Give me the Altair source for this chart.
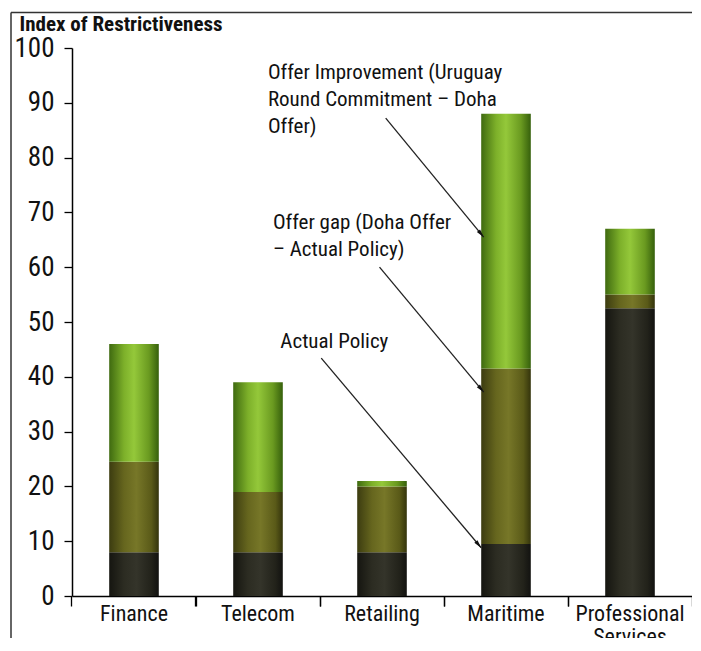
import math
import altair as alt
import pandas as pd

# ---------------- data ----------------
sectors = ["Finance", "Telecom", "Retailing", "Maritime", "Professional Services"]
actual_policy = [8, 8, 8, 9.5, 52.5]
doha_offer = [24.5, 19, 20, 41.5, 55]
uruguay_commitment = [46, 39, 21, 88, 67]

y_ticks = [0, 10, 20, 30, 40, 50, 60, 70, 80, 90, 100]

note_lines = ["Offer Improvement (Uruguay", "Round Commitment \u2013 Doha", "Offer)",
              "Offer gap (Doha Offer", "\u2013 Actual Policy)", "Actual Policy"]
note_x = [1.58, 1.58, 1.58, 1.62, 1.62, 1.68]
note_y = [95.4, 90.5, 85.6, 68.1, 63.1, 46.4]

arrow_x0 = [2.53, 2.48, 2.01]
arrow_y0 = [87.2, 60.0, 43.4]
arrow_x1 = [3.32, 3.32, 3.30]
arrow_y1 = [65.5, 37.2, 8.8]

title_text = "offers and actual policy by sector"

# ---------------- layout ----------------
W, H = 620, 548
BAND = W / len(sectors)
PPU = H / 100.0
P_INNER = 0.6
NARROW = "Liberation Sans Narrow, Arial Narrow, Roboto Condensed, DejaVu Sans Condensed, Liberation Sans"

rows = []
for s, a, d, u in zip(sectors, actual_policy, doha_offer, uruguay_commitment):
    rows.append({"sector": s, "series": "actual", "y0": 0, "y1": a})
    rows.append({"sector": s, "series": "gap", "y0": a, "y1": d})
    rows.append({"sector": s, "series": "improvement", "y0": d, "y1": u})
bars_df = pd.DataFrame(rows)

notes_df = pd.DataFrame({"text": note_lines, "nx": note_x, "ny": note_y})
arrows_df = pd.DataFrame({"ax0": arrow_x0, "ay0": arrow_y0, "ax1": arrow_x1, "ay1": arrow_y1})

heads = []
for x0, y0, x1, y1 in zip(arrow_x0, arrow_y0, arrow_x1, arrow_y1):
    dxp = (x1 - x0) * BAND
    dyp = (y0 - y1) * PPU
    L = math.hypot(dxp, dyp)
    ux, uy = dxp / L, dyp / L
    ang = math.degrees(math.atan2(dxp, -dyp)) % 360
    heads.append({"hx": x1 - 4 * ux / BAND, "hy": y1 + 4 * uy / PPU, "ang": ang})
heads_df = pd.DataFrame(heads)


def grad(stops):
    return alt.Gradient(
        gradient="linear", x1=0, x2=1, y1=0, y2=0,
        stops=[alt.GradientStop(color=c, offset=o) for o, c in stops],
    )


fills = {
    "actual": grad([(0, "#151510"), (0.3, "#2c2c22"), (0.55, "#34342a"), (0.85, "#22221a"), (1, "#121210")]),
    "gap": grad([(0, "#3c3c10"), (0.3, "#66661e"), (0.55, "#777728"), (0.85, "#5a5a18"), (1, "#34340c")]),
    "improvement": grad([(0, "#3f6a10"), (0.3, "#7db02a"), (0.5, "#94c83a"), (0.8, "#6a9a20"), (1, "#36600c")]),
}

xscale = alt.Scale(paddingInner=P_INNER, paddingOuter=P_INNER / 2)
yscale = alt.Scale(domain=[0, 100], nice=False, zero=True)

y_axis = alt.Axis(
    values=y_ticks, grid=False, tickSize=8, tickColor="black", tickWidth=1.3,
    domainColor="black", domainWidth=1.5, labelFont=NARROW, labelFontSize=27,
    labelColor="#111", labelPadding=10,
    title="Index of Restrictiveness", titleAngle=0, titleX=-53, titleY=-18,
    titleAlign="left", titleBaseline="alphabetic", titleFont=NARROW,
    titleFontSize=21, titleFontWeight="bold", titleColor="#111",
)

edge = -(P_INNER / 2) / (1 - P_INNER)
x_axis_labels = alt.Axis(
    title=None, bandPosition=edge, labelAngle=0,
    tickSize=10, tickColor="black", tickWidth=1.3, domainColor="black",
    domainWidth=1.5, labelFont=NARROW, labelFontSize=22, labelColor="#111",
    labelPadding=-3, labelLineHeight=23,
    labelExpr="datum.label == 'Professional Services' ? ['Professional', 'Services'] : datum.label",
    orient="bottom",
)
x_axis_end = alt.Axis(
    title=None, bandPosition=1 - edge, labels=False, domain=False, tickSize=10,
    tickColor="black", tickWidth=1.3, orient="bottom",
)

layers = []
for i, key in enumerate(["actual", "gap", "improvement"]):
    layers.append(
        alt.Chart(bars_df).transform_filter(alt.datum.series == key)
        .mark_bar(color=fills[key], stroke=None)
        .encode(
            x=alt.X("sector:N", sort=sectors, scale=xscale,
                    axis=x_axis_labels if i == 0 else None),
            y=alt.Y("y1:Q", scale=yscale, axis=y_axis),
            y2="y0",
        )
    )
end_ticks = (
    alt.Chart(bars_df).mark_bar(opacity=0)
    .encode(
        x=alt.X("sector:N", sort=sectors, scale=xscale, axis=x_axis_end),
        y=alt.Y("y1:Q", scale=yscale, axis=y_axis),
        y2="y0",
    )
)
bars = alt.layer(*layers, end_ticks).resolve_axis(x="independent")

ax = alt.Scale(domain=[0, 5], nice=False, zero=False)
notes = alt.Chart(notes_df).mark_text(
    align="left", baseline="middle", font=NARROW, fontSize=21, color="#111"
).encode(
    x=alt.X("nx:Q", scale=ax, axis=None),
    y=alt.Y("ny:Q", scale=yscale, axis=y_axis),
    text="text:N",
)
arrows = alt.Chart(arrows_df).mark_rule(color="#222", strokeWidth=1.3).encode(
    x=alt.X("ax0:Q", scale=ax, axis=None),
    y=alt.Y("ay0:Q", scale=yscale, axis=y_axis),
    x2="ax1:Q",
    y2="ay1:Q",
)
heads_layer = alt.Chart(heads_df).mark_point(
    shape="M0,-1L0.5,1L-0.5,1Z", filled=True, color="#111", size=70, opacity=1
).encode(
    x=alt.X("hx:Q", scale=ax, axis=None),
    y=alt.Y("hy:Q", scale=yscale, axis=y_axis),
    angle=alt.Angle("ang:Q", scale=None),
)

one = pd.DataFrame({"k": [0]})
frame_left = alt.Chart(one).mark_rule(color="#333", strokeWidth=1.5).encode(
    x=alt.value(-61), y=alt.value(-35.5), y2=alt.value(620)
)
frame_top = alt.Chart(one).mark_rule(color="#333", strokeWidth=1.5).encode(
    x=alt.value(-61), x2=alt.value(700), y=alt.value(-35.5)
)

chart = (
    alt.layer(bars, notes, arrows, heads_layer, frame_left, frame_top)
    .resolve_scale(x="independent")
    .properties(
        width=W, height=H,
        autosize=alt.AutoSizeParams(type="none"),
        padding={"left": 64, "top": 40, "right": 0, "bottom": 42},
        background="white",
        title=alt.TitleParams(
            text=title_text, font="Liberation Serif, DejaVu Serif",
            fontWeight="bold", fontSize=28, color="#111", anchor="middle",
            baseline="alphabetic", offset=2.5, dx=-57, dy=11,
        ),
    )
    .configure_view(stroke=None)
)

chart.save("out.html", embed_options={"renderer": "svg", "actions": False})
